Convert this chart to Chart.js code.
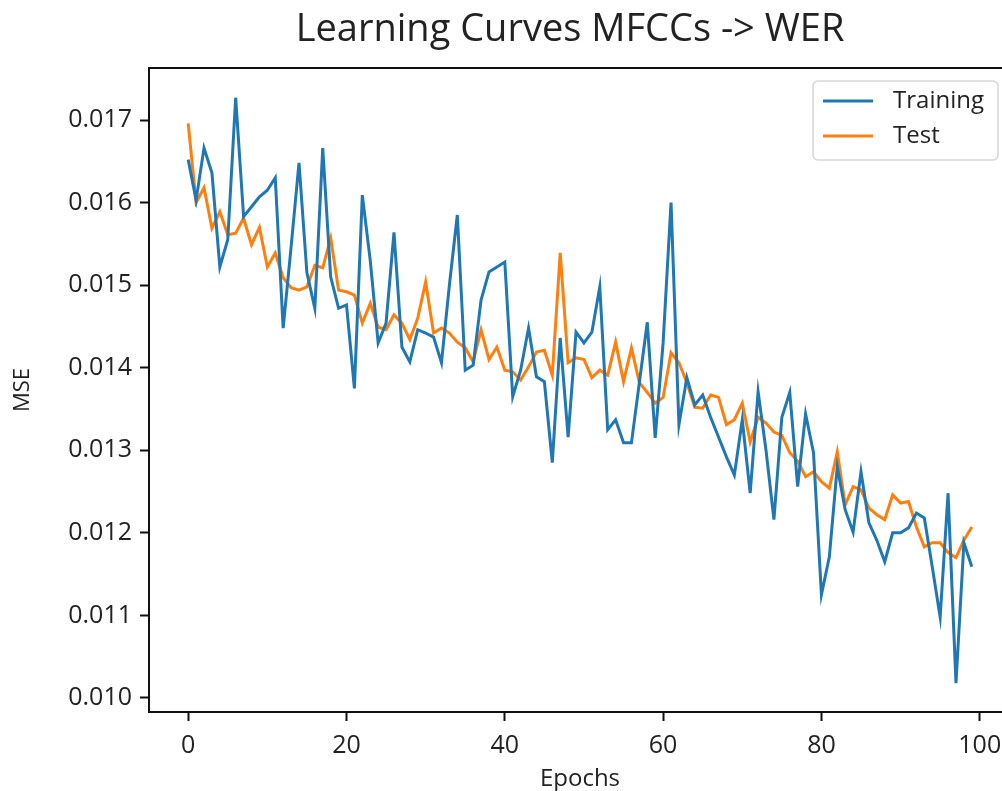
<!DOCTYPE html>
<html>
<head>
<meta charset="utf-8">
<title>Learning Curves MFCCs -> WER</title>
<script src="https://cdn.jsdelivr.net/npm/chart.js@4.4.1/dist/chart.umd.min.js"></script>
<style>
  html, body { margin: 0; padding: 0; background: #fff; overflow: hidden; }
  #wrap { width: 1140px; height: 791px; }
</style>
</head>
<body>
<div id="wrap"><canvas id="chart" width="1140" height="791"></canvas></div>
<script>
// MSE per epoch, training and test
const trainMse = [
  0.01652, 0.01603, 0.01666, 0.01636, 0.01522, 0.01555, 0.01727, 0.01583, 0.01595, 0.01607,
  0.01615, 0.01630, 0.01448, 0.01546, 0.01648, 0.01515, 0.01472, 0.01666, 0.01510, 0.01472,
  0.01476, 0.01375, 0.01609, 0.01530, 0.01430, 0.01454, 0.01564, 0.01425, 0.01407, 0.01446,
  0.01442, 0.01437, 0.01406, 0.01500, 0.01585, 0.01397, 0.01403, 0.01482, 0.01516, 0.01522,
  0.01528, 0.01365, 0.01397, 0.01448, 0.01389, 0.01383, 0.01285, 0.01436, 0.01316, 0.01443,
  0.01430, 0.01443, 0.01498, 0.01325, 0.01337, 0.01309, 0.01309, 0.01382, 0.01455, 0.01315,
  0.01430, 0.01600, 0.01331, 0.01388, 0.01355, 0.01367, 0.01340, 0.01316, 0.01292, 0.01270,
  0.01337, 0.01248, 0.01371, 0.01300, 0.01216, 0.01340, 0.01370, 0.01256, 0.01344, 0.01297,
  0.01125, 0.01171, 0.01280, 0.01228, 0.01201, 0.01274, 0.01212, 0.01191, 0.01165, 0.01200,
  0.01200, 0.01206, 0.01224, 0.01218, 0.01159, 0.01098, 0.01248, 0.01018, 0.01188, 0.01159
];
const testMse = [
  0.01696, 0.01600, 0.01618, 0.01569, 0.01589, 0.01561, 0.01563, 0.01581, 0.01549, 0.01570,
  0.01522, 0.01539, 0.01509, 0.01497, 0.01494, 0.01498, 0.01524, 0.01521, 0.01557, 0.01494,
  0.01492, 0.01488, 0.01454, 0.01478, 0.01449, 0.01446, 0.01464, 0.01454, 0.01434, 0.01460,
  0.01504, 0.01442, 0.01448, 0.01442, 0.01431, 0.01424, 0.01407, 0.01446, 0.01410, 0.01425,
  0.01397, 0.01395, 0.01385, 0.01401, 0.01419, 0.01421, 0.01391, 0.01539, 0.01406, 0.01412,
  0.01410, 0.01388, 0.01397, 0.01391, 0.01431, 0.01383, 0.01424, 0.01382, 0.01370, 0.01357,
  0.01364, 0.01418, 0.01406, 0.01382, 0.01352, 0.01351, 0.01367, 0.01364, 0.01331, 0.01337,
  0.01357, 0.01310, 0.01340, 0.01333, 0.01322, 0.01318, 0.01297, 0.01287, 0.01268, 0.01274,
  0.01262, 0.01254, 0.01298, 0.01234, 0.01256, 0.01252, 0.01230, 0.01222, 0.01216, 0.01246,
  0.01236, 0.01238, 0.01207, 0.01183, 0.01188, 0.01188, 0.01176, 0.01170, 0.01191, 0.01207
];
const epochs = trainMse.map((_, i) => i);

const xTicks = [0, 20, 40, 60, 80, 100];
const yTicks = [0.010, 0.011, 0.012, 0.013, 0.014, 0.015, 0.016, 0.017];

const chartTitle = 'Learning Curves MFCCs -> WER';
const seriesNames = ['Training', 'Test'];
const seriesColors = ['#1f77b4', '#ff7f0e'];

const FONT = "'Open Sans', 'Noto Sans', sans-serif";
const INK = '#222';

// figure title, frame round the axes and the boxed legend in the upper right
const decor = {
  id: 'decor',
  afterDraw(chart) {
    const { ctx, chartArea: a } = chart;
    ctx.save();

    ctx.fillStyle = INK;
    ctx.font = `38px ${FONT}`;
    ctx.textAlign = 'center';
    ctx.textBaseline = 'middle';
    ctx.fillText(chartTitle, 570, 30);

    ctx.strokeStyle = '#111';
    ctx.lineWidth = 2;
    ctx.strokeRect(a.left, a.top, a.right - a.left, a.bottom - a.top);

    ctx.font = `24px ${FONT}`;
    const textW = Math.max(...seriesNames.map((n) => ctx.measureText(n).width));
    const boxR = Math.min(a.right - 12.5, 998);
    const boxW = 80 + textW + 14;
    const boxL = boxR - boxW;
    const boxT = a.top + 13;
    const boxH = 79;
    ctx.beginPath();
    ctx.roundRect(boxL, boxT, boxW, boxH, 5);
    ctx.fillStyle = 'rgba(255,255,255,0.85)';
    ctx.fill();
    ctx.strokeStyle = '#d6d6d6';
    ctx.lineWidth = 1.5;
    ctx.stroke();

    ctx.textAlign = 'left';
    chart.data.datasets.forEach((ds, i) => {
      const y = boxT + 20 + i * 35;
      ctx.strokeStyle = ds.borderColor;
      ctx.lineWidth = 3;
      ctx.beginPath();
      ctx.moveTo(boxL + 10, y);
      ctx.lineTo(boxL + 60, y);
      ctx.stroke();
      ctx.fillStyle = INK;
      ctx.fillText(ds.label, boxL + 80, y);
    });
    ctx.restore();
  }
};

new Chart(document.getElementById('chart'), {
  type: 'line',
  data: {
    datasets: [
      {
        label: seriesNames[0],
        data: trainMse.map((y, i) => ({ x: epochs[i], y })),
        borderColor: seriesColors[0],
        borderWidth: 3,
        pointRadius: 0,
        tension: 0,
      },
      {
        label: seriesNames[1],
        data: testMse.map((y, i) => ({ x: epochs[i], y })),
        borderColor: seriesColors[1],
        borderWidth: 3,
        pointRadius: 0,
        tension: 0,
      },
    ],
  },
  options: {
    responsive: false,
    animation: false,
    layout: { padding: { top: 68, right: 129, bottom: 0, left: 0 } },
    plugins: {
      legend: { display: false },
      title: { display: false },
      tooltip: { enabled: false },
    },
    scales: {
      x: {
        type: 'linear',
        min: -4.95,
        max: 103.95,
        afterBuildTicks: (s) => { s.ticks = xTicks.map((v) => ({ value: v })); },
        afterFit: (s) => { s.height = 79; },
        grid: { drawOnChartArea: false, drawTicks: true, tickLength: 9, tickWidth: 2, tickColor: '#111' },
        border: { display: true, color: '#111', width: 2 },
        ticks: { color: INK, font: { family: FONT, size: 25 }, padding: 10, maxRotation: 0 },
        title: { display: true, text: 'Epochs', color: INK, font: { family: FONT, size: 24, lineHeight: 1.0 }, padding: { top: 0, bottom: 0 } },
      },
      y: {
        min: 0.00983,
        max: 0.01763,
        afterBuildTicks: (s) => { s.ticks = yTicks.map((v) => ({ value: v })); },
        afterFit: (s) => { s.width = 149; },
        grid: { drawOnChartArea: false, drawTicks: true, tickLength: 9, tickWidth: 2, tickColor: '#111' },
        border: { display: true, color: '#111', width: 2 },
        ticks: { color: INK, font: { family: FONT, size: 25 }, padding: 8, callback: (v) => v.toFixed(3) },
        title: { display: true, text: 'MSE', color: INK, font: { family: FONT, size: 22 }, padding: { top: 10, bottom: 0 } },
      },
    },
  },
  plugins: [decor],
});
</script>
</body>
</html>
